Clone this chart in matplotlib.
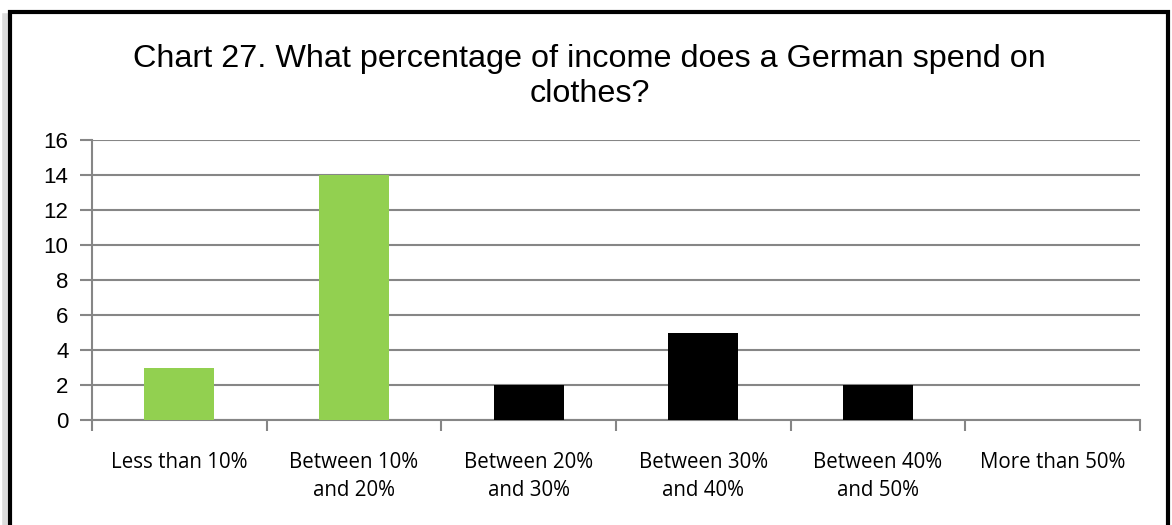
import numpy as np
import matplotlib.pyplot as plt
from matplotlib.patches import Rectangle

categories = ['Less than 10%', 'Between 10%\nand 20%', 'Between 20%\nand 30%',
              'Between 30%\nand 40%', 'Between 40%\nand 50%', 'More than 50%']
values = [3, 14, 2, 5, 2, 0]
bar_colors = ['#92D050', '#92D050', '#000000', '#000000', '#000000', '#000000']
yticks = [0, 2, 4, 6, 8, 10, 12, 14, 16]

grid_gray = '#868686'

fig = plt.figure(figsize=(11.72, 5.25), dpi=100)

# outer frame with a soft shadow on the left
fig.patches.append(Rectangle((0.004, -0.05), 0.99, 1.02, transform=fig.transFigure,
                             facecolor='none', edgecolor='#dcdcdc', linewidth=4, zorder=0))
fig.patches.append(Rectangle((0.0085, -0.05), 0.988, 1.027, transform=fig.transFigure,
                             facecolor='white', edgecolor='black', linewidth=3, zorder=1))

ax = fig.add_axes([0.0785, 0.2, 0.8942, 0.5333])
ax.set_zorder(2)
ax.patch.set_alpha(0)

x = np.arange(len(categories))
ax.bar(x, values, width=0.4, color=bar_colors, zorder=3)

ax.set_xlim(-0.5, len(categories) - 0.5)
ax.set_ylim(0, 16)
ax.set_yticks(yticks)
ax.set_yticklabels([str(v) for v in yticks], fontsize=16, family='Liberation Sans')
ax.yaxis.grid(True, color=grid_gray, linewidth=1.5, zorder=0)

ax.set_xticks(x)
ax.set_xticklabels(categories, fontsize=14.8, family='Open Sans', linespacing=1.45)
ax.tick_params(axis='x', which='major', length=0, pad=23)
ax.set_xticks(np.arange(-0.5, len(categories)), minor=True)
ax.tick_params(axis='x', which='minor', length=8, width=1.5, color=grid_gray)
ax.tick_params(axis='y', length=9, width=1.5, color=grid_gray, pad=8)

for side in ['top', 'right']:
    ax.spines[side].set_visible(False)
for side in ['left', 'bottom']:
    ax.spines[side].set_color(grid_gray)
    ax.spines[side].set_linewidth(1.5)

fig.text(0.503, 0.855, 'Chart 27. What percentage of income does a German spend on\nclothes?',
         ha='center', va='center', fontsize=23.3, family='Liberation Sans', linespacing=1.22, zorder=5)

fig.savefig('out.png', dpi=100)
